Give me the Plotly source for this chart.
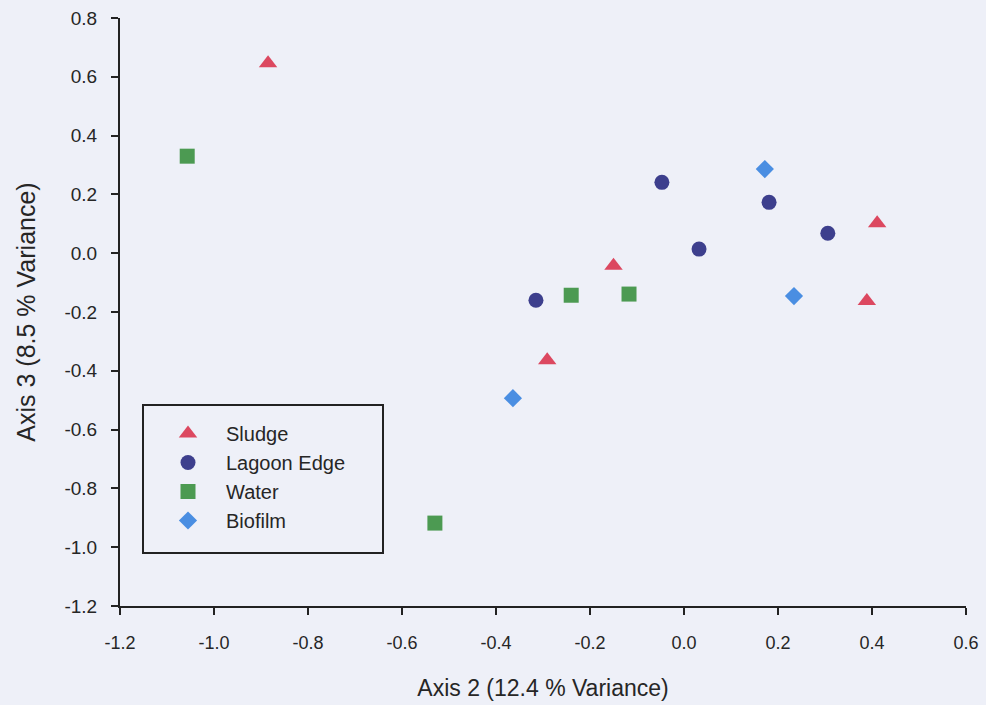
import plotly.graph_objects as go

sludge_x = [-0.885, -0.150, -0.291, 0.389, 0.411]
sludge_y = [0.646, -0.043, -0.364, -0.163, 0.102]
lagoon_x = [-0.047, 0.032, -0.315, 0.181, 0.306]
lagoon_y = [0.241, 0.014, -0.160, 0.173, 0.068]
water_x = [-1.057, -0.240, -0.117, -0.530]
water_y = [0.330, -0.143, -0.139, -0.918]
biofilm_x = [0.172, 0.234, -0.364]
biofilm_y = [0.286, -0.146, -0.493]

x_ticks = [-1.2, -1.0, -0.8, -0.6, -0.4, -0.2, 0.0, 0.2, 0.4, 0.6]
y_ticks = [0.8, 0.6, 0.4, 0.2, 0.0, -0.2, -0.4, -0.6, -0.8, -1.0, -1.2]

series = [
    ("Sludge", sludge_x, sludge_y, "triangle-up", "#DC4860", 16),
    ("Lagoon Edge", lagoon_x, lagoon_y, "circle", "#3D3F8D", 15),
    ("Water", water_x, water_y, "square", "#4C9A52", 15),
    ("Biofilm", biofilm_x, biofilm_y, "diamond", "#4A8EE2", 14),
]

fig = go.Figure()
for name, xs, ys, sym, col, sz in series:
    fig.add_trace(go.Scatter(
        x=xs, y=ys, mode="markers", name=name, legendgroup=name,
        marker=dict(symbol=sym, color=col, size=sz, line=dict(width=0)),
    ))

font = "Liberation Sans, Arial, sans-serif"
txt = "#262626"
fig.update_layout(
    width=986, height=705,
    margin=dict(l=120, r=20, t=18, b=99),
    paper_bgcolor="#EEF0F8", plot_bgcolor="#EEF0F8",
    font=dict(family=font, color=txt, size=18),
    showlegend=True,
    legend=dict(
        x=(150 - 120) / 846, y=(606 - 414) / 588, xanchor="left", yanchor="top",
        bgcolor="rgba(0,0,0,0)", borderwidth=0,
        font=dict(size=20, color=txt, family=font),
        tracegroupgap=0, itemwidth=66,
    ),
    xaxis=dict(
        range=[-1.2, 0.6], tickvals=x_ticks, ticktext=[f"{v:.1f}" for v in x_ticks],
        showgrid=False, zeroline=False, showline=True, linecolor="#222222", linewidth=2,
        ticks="outside", ticklen=7, tickcolor="#222222", tickwidth=1.5,
        tickfont=dict(size=18, color=txt), ticklabelstandoff=12, automargin=False,
        title=dict(text="Axis 2 (12.4 % Variance)", font=dict(size=23, color=txt), standoff=28),
    ),
    yaxis=dict(
        range=[-1.2, 0.8], tickvals=y_ticks, ticktext=[f"{v:.1f}" for v in y_ticks],
        showgrid=False, zeroline=False, showline=True, linecolor="#222222", linewidth=2,
        ticks="outside", ticklen=7, tickcolor="#222222", tickwidth=1.5,
        tickfont=dict(size=19, color=txt), ticklabelstandoff=10, automargin=False,
        title=dict(text="Axis 3 (8.5 % Variance)", font=dict(size=25, color=txt), standoff=22),
    ),
)

# legend frame
fig.add_shape(type="rect", xref="paper", yref="paper",
              x0=(143 - 120) / 846, x1=(383 - 120) / 846,
              y0=(606 - 553) / 588, y1=(606 - 405) / 588,
              line=dict(color="#222222", width=2), fillcolor="rgba(0,0,0,0)", layer="below")

fig.write_html("out.html")
